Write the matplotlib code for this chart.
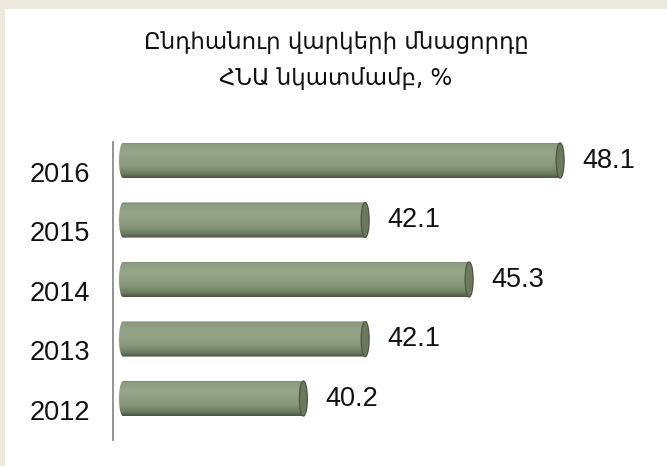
import numpy as np
import matplotlib
matplotlib.use('Agg')
import matplotlib.pyplot as plt
import matplotlib.transforms as mtransforms
from matplotlib.patches import Ellipse, PathPatch, Rectangle
from matplotlib.path import Path
from matplotlib.colors import LinearSegmentedColormap

# ---- data ----
years = ['2012', '2013', '2014', '2015', '2016']
values = [40.2, 42.1, 45.3, 42.1, 48.1]
value_labels = ['40.2', '42.1', '45.3', '42.1', '48.1']
title_line1 = 'Ընդհանուր վարկերի մնացորդը'
title_line2 = 'ՀՆԱ նկատմամբ, %'

W, H = 667, 466
fig = plt.figure(figsize=(W / 100, H / 100), dpi=100)
fig.patch.set_facecolor('#ece9de')
fig.add_artist(Rectangle((5 / W, 0), 1, 1 - 9 / H, transform=fig.transFigure,
                         facecolor='white', edgecolor='none', zorder=0))

num_font = ['Liberation Sans', 'DejaVu Sans']
title_font = ['DejaVu Sans']

ax = fig.add_axes([113 / W, 1 - 440 / H, (660 - 113) / W, (440 - 142) / H])
ax.set_facecolor('none')

base = 34.65
px_per_unit = 32.5
xmin = base - 10 / px_per_unit
xmax = xmin + (660 - 113) / px_per_unit
bar_h = 0.59
cap_w = 8 / px_per_unit

ypos = np.arange(len(years))
bars = ax.barh(ypos, np.array(values) - base, left=base, height=bar_h,
               color='none', edgecolor='none')

cmap = LinearSegmentedColormap.from_list('cyl', [
    (0.0, '#75826a'), (0.06, '#8d9b81'), (0.3, '#97a58a'),
    (0.65, '#8b9a7d'), (0.88, '#6e7b61'), (1.0, '#4a5440')])
grad = np.linspace(0, 1, 256).reshape(-1, 1)

for rect in bars:
    x0, y0 = rect.get_x(), rect.get_y()
    x1 = x0 + rect.get_width()
    h = rect.get_height()
    yc = y0 + h / 2
    t = np.linspace(np.pi / 2, 3 * np.pi / 2, 40)
    xs = x0 + (cap_w / 2) * np.cos(t)
    ys = yc + (h / 2) * np.sin(t)
    verts = list(zip(xs, ys)) + [(x1, y0), (x1, y0 + h), (xs[0], ys[0])]
    codes = [Path.MOVETO] + [Path.LINETO] * (len(verts) - 2) + [Path.CLOSEPOLY]
    clip = PathPatch(Path(verts, codes), transform=ax.transData,
                     facecolor='none', edgecolor='none')
    ax.add_patch(clip)
    im = ax.imshow(grad, cmap=cmap, extent=(x0 - cap_w, x1, y0, y0 + h),
                   origin='upper', aspect='auto', zorder=2)
    im.set_clip_path(clip)
    ax.add_patch(Ellipse((x1, yc), cap_w, h, facecolor='#6c795f',
                         edgecolor='#4d5743', lw=0.9, zorder=3))

for rect, lab in zip(bars, value_labels):
    x1 = rect.get_x() + rect.get_width()
    yc = rect.get_y() + rect.get_height() / 2
    ax.annotate(lab, (x1, yc), xytext=(16, 0), textcoords='offset points',
                ha='left', va='center', fontsize=19.5, family=num_font,
                color='#111111')

ax.set_xlim(xmin, xmax)
ax.set_ylim(-0.697, 4.311)
ax.set_xticks([])
ax.set_yticks(ypos)
ax.set_yticklabels(years, fontsize=19.5, family=num_font, color='#111111')
ax.tick_params(axis='y', length=0, pad=16.5)
offset = mtransforms.ScaledTranslation(0, -0.11, fig.dpi_scale_trans)
for lab in ax.get_yticklabels():
    lab.set_transform(lab.get_transform() + offset)
for s in ['top', 'right', 'bottom']:
    ax.spines[s].set_visible(False)
ax.spines['left'].set_color('#8a8a8a')
ax.spines['left'].set_linewidth(1.3)

fig.text(336 / W, 1 - 43 / H, title_line1, ha='center', va='center',
         fontsize=16.5, family=title_font, color='#111111')
fig.text(336 / W, 1 - 79 / H, title_line2, ha='center', va='center',
         fontsize=16.5, family=title_font, color='#111111')

fig.savefig('out.png', dpi=100, facecolor=fig.get_facecolor())
